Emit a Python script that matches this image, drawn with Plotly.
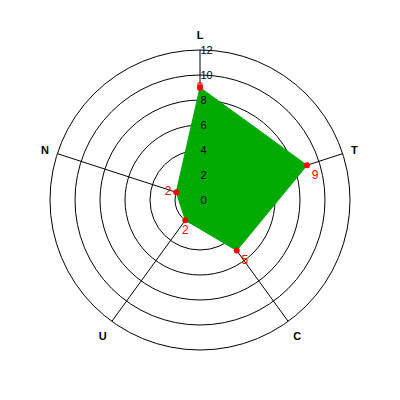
import plotly.graph_objects as go

categories = ["L", "T", "C", "U", "N"]
values = [9, 9, 5, 2, 2]
radial_ticks = [0, 2, 4, 6, 8, 10, 12]
label_positions = ["middle center", "bottom right", "bottom right", "bottom center", "middle left"]

fig = go.Figure()
fig.add_trace(go.Scatterpolar(
    r=values + values[:1], theta=categories + categories[:1],
    mode="lines", fill="toself", fillcolor="#00AA00",
    line=dict(color="#00AA00", width=1), hoverinfo="skip", showlegend=False))
fig.add_trace(go.Scatterpolar(
    r=values, theta=categories, mode="markers+text",
    marker=dict(color="red", size=6),
    text=[str(v) for v in values], textposition=label_positions,
    textfont=dict(color="red", size=12, family="Liberation Sans"),
    showlegend=False))

fig.update_layout(
    width=400, height=400,
    margin=dict(l=42, r=58, t=42, b=58),
    paper_bgcolor="white",
    font=dict(family="Liberation Sans", size=11, color="black"),
    polar=dict(
        bgcolor="white",
        domain=dict(x=[0, 1], y=[0, 1]),
        radialaxis=dict(range=[0, 12], tickvals=radial_ticks,
                        ticktext=[str(t) for t in radial_ticks],
                        angle=90, tickangle=90, side="clockwise",
                        showline=False,
                        gridcolor="black", gridwidth=1, ticks="",
                        tickfont=dict(size=11, color="black"), layer="above traces"),
        angularaxis=dict(rotation=90, direction="clockwise",
                         showline=True, linecolor="black", linewidth=1,
                         gridcolor="black", gridwidth=1,
                         ticks="outside", ticklen=6, tickcolor="rgba(0,0,0,0)",
                         tickfont=dict(size=11, color="black", family="Liberation Sans"),
                         tickvals=categories,
                         ticktext=["<b>" + c + "</b>" for c in categories],
                         layer="below traces"),
    ),
)
fig.write_html("out.html")
